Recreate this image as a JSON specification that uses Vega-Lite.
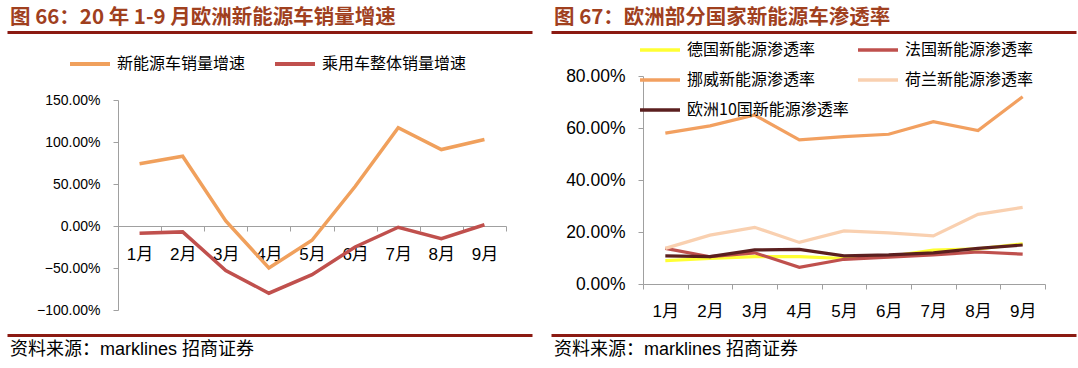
{
  "$schema": "https://vega.github.io/schema/vega-lite/v6.json",
  "autosize": {"type": "none"},
  "padding": {"left": 118, "top": 75, "right": 960, "bottom": 293},
  "background": "white",
  "config": {
    "view": {"stroke": null},
    "font": "Liberation Sans, Noto Sans CJK SC",
    "axis": {"grid": false}
  },
  "datasets": {
    "growth": [
      {"month": "1月", "series": "新能源车销量增速", "value": 0.74},
      {"month": "2月", "series": "新能源车销量增速", "value": 0.83},
      {"month": "3月", "series": "新能源车销量增速", "value": 0.06},
      {"month": "4月", "series": "新能源车销量增速", "value": -0.5},
      {"month": "5月", "series": "新能源车销量增速", "value": -0.17},
      {"month": "6月", "series": "新能源车销量增速", "value": 0.47},
      {"month": "7月", "series": "新能源车销量增速", "value": 1.17},
      {"month": "8月", "series": "新能源车销量增速", "value": 0.91},
      {"month": "9月", "series": "新能源车销量增速", "value": 1.03},
      {"month": "1月", "series": "乘用车整体销量增速", "value": -0.085},
      {"month": "2月", "series": "乘用车整体销量增速", "value": -0.07},
      {"month": "3月", "series": "乘用车整体销量增速", "value": -0.53},
      {"month": "4月", "series": "乘用车整体销量增速", "value": -0.8},
      {"month": "5月", "series": "乘用车整体销量增速", "value": -0.58},
      {"month": "6月", "series": "乘用车整体销量增速", "value": -0.25},
      {"month": "7月", "series": "乘用车整体销量增速", "value": -0.015},
      {"month": "8月", "series": "乘用车整体销量增速", "value": -0.15},
      {"month": "9月", "series": "乘用车整体销量增速", "value": 0.015}
    ],
    "pen": [
      {"month": "1月", "series": "德国新能源渗透率", "value": 0.09},
      {"month": "2月", "series": "德国新能源渗透率", "value": 0.098},
      {"month": "3月", "series": "德国新能源渗透率", "value": 0.105},
      {"month": "4月", "series": "德国新能源渗透率", "value": 0.105},
      {"month": "5月", "series": "德国新能源渗透率", "value": 0.098},
      {"month": "6月", "series": "德国新能源渗透率", "value": 0.105},
      {"month": "7月", "series": "德国新能源渗透率", "value": 0.13},
      {"month": "8月", "series": "德国新能源渗透率", "value": 0.135},
      {"month": "9月", "series": "德国新能源渗透率", "value": 0.154},
      {"month": "1月", "series": "法国新能源渗透率", "value": 0.137},
      {"month": "2月", "series": "法国新能源渗透率", "value": 0.105},
      {"month": "3月", "series": "法国新能源渗透率", "value": 0.12},
      {"month": "4月", "series": "法国新能源渗透率", "value": 0.064},
      {"month": "5月", "series": "法国新能源渗透率", "value": 0.095},
      {"month": "6月", "series": "法国新能源渗透率", "value": 0.103},
      {"month": "7月", "series": "法国新能源渗透率", "value": 0.112},
      {"month": "8月", "series": "法国新能源渗透率", "value": 0.123},
      {"month": "9月", "series": "法国新能源渗透率", "value": 0.115},
      {"month": "1月", "series": "挪威新能源渗透率", "value": 0.58},
      {"month": "2月", "series": "挪威新能源渗透率", "value": 0.608},
      {"month": "3月", "series": "挪威新能源渗透率", "value": 0.65},
      {"month": "4月", "series": "挪威新能源渗透率", "value": 0.554},
      {"month": "5月", "series": "挪威新能源渗透率", "value": 0.567},
      {"month": "6月", "series": "挪威新能源渗透率", "value": 0.576},
      {"month": "7月", "series": "挪威新能源渗透率", "value": 0.624},
      {"month": "8月", "series": "挪威新能源渗透率", "value": 0.59},
      {"month": "9月", "series": "挪威新能源渗透率", "value": 0.72},
      {"month": "1月", "series": "荷兰新能源渗透率", "value": 0.137},
      {"month": "2月", "series": "荷兰新能源渗透率", "value": 0.188},
      {"month": "3月", "series": "荷兰新能源渗透率", "value": 0.218},
      {"month": "4月", "series": "荷兰新能源渗透率", "value": 0.16},
      {"month": "5月", "series": "荷兰新能源渗透率", "value": 0.204},
      {"month": "6月", "series": "荷兰新能源渗透率", "value": 0.197},
      {"month": "7月", "series": "荷兰新能源渗透率", "value": 0.185},
      {"month": "8月", "series": "荷兰新能源渗透率", "value": 0.268},
      {"month": "9月", "series": "荷兰新能源渗透率", "value": 0.295},
      {"month": "1月", "series": "欧洲10国新能源渗透率", "value": 0.108},
      {"month": "2月", "series": "欧洲10国新能源渗透率", "value": 0.105},
      {"month": "3月", "series": "欧洲10国新能源渗透率", "value": 0.131},
      {"month": "4月", "series": "欧洲10国新能源渗透率", "value": 0.133},
      {"month": "5月", "series": "欧洲10国新能源渗透率", "value": 0.108},
      {"month": "6月", "series": "欧洲10国新能源渗透率", "value": 0.112},
      {"month": "7月", "series": "欧洲10国新能源渗透率", "value": 0.12},
      {"month": "8月", "series": "欧洲10国新能源渗透率", "value": 0.137},
      {"month": "9月", "series": "欧洲10国新能源渗透率", "value": 0.15}
    ]
  },
  "spacing": -98,
  "resolve": {"scale": {"color": "independent", "x": "independent", "y": "independent"}, "legend": {"color": "independent"}},
  "hconcat": [
    {
      "spacing": 24,
      "bounds": "flush",
      "resolve": {"scale": {"x": "independent", "y": "independent"}},
      "vconcat": [
        {
          "width": 388,
          "height": 1,
          "data": {"values": [{"v": 0}]},
          "title": {"text": "图 66：20 年 1-9 月欧洲新能源车销量增速", "anchor": "start", "frame": "bounds", "orient": "top", "offset": 4, "dx": 3, "fontSize": 20.5, "fontWeight": "bold", "color": "#A0401E", "font": "Noto Sans CJK SC"},
          "mark": {"type": "point", "opacity": 0, "size": 0},
          "encoding": {
            "x": {"field": "v", "type": "quantitative", "scale": {"domain": [0, 1], "range": [-111, 414]},
              "axis": {"orient": "top", "offset": 43, "domainColor": "#8B1A12", "domainWidth": 3, "ticks": false, "labels": false, "title": null}}
          }
        },
        {
          "width": 388,
          "height": 210,
          "data": {"name": "growth"},
          "mark": {"type": "line", "strokeWidth": 3.5},
          "encoding": {
            "x": {"field": "month", "type": "ordinal", "sort": ["1月", "2月", "3月", "4月", "5月", "6月", "7月", "8月", "9月"],
              "scale": {"type": "band", "paddingInner": 0, "paddingOuter": 0}, "bandPosition": 0.5,
              "axis": {"title": null, "offset": -84, "tickBand": "extent", "labelAngle": 0, "labelFontSize": 17, "labelPadding": 15, "labelColor": "#000", "domainColor": "#A0A0A0", "tickColor": "#A0A0A0", "tickSize": 5}},
            "y": {"field": "value", "type": "quantitative", "scale": {"domain": [-1, 1.5], "nice": false},
              "axis": {"title": null, "values": [-1, -0.5, 0, 0.5, 1, 1.5], "format": ".2%", "labelFontSize": 14, "labelPadding": 13, "labelColor": "#000", "domainColor": "#A0A0A0", "tickColor": "#A0A0A0", "tickSize": 5}},
            "color": {"field": "series", "type": "nominal",
              "scale": {"domain": ["新能源车销量增速", "乘用车整体销量增速"], "range": ["#F0A05C", "#C0504D"]},
              "legend": {"title": null, "orient": "none", "legendX": -50, "legendY": -33, "direction": "horizontal", "symbolType": "stroke", "symbolSize": 1600, "symbolStrokeWidth": 4, "labelFontSize": 16, "labelFont": "Noto Sans CJK SC", "labelColor": "#000", "columnPadding": 21, "labelOffset": 5, "labelLimit": 300}}
          }
        },
        {
          "width": 388,
          "height": 1,
          "data": {"values": [{"v": 0}]},
          "title": {"text": "资料来源：marklines 招商证券", "orient": "bottom", "anchor": "start", "frame": "bounds", "offset": 6, "dx": 3, "fontSize": 18, "fontWeight": "normal", "color": "#000"},
          "mark": {"type": "point", "opacity": 0, "size": 0},
          "encoding": {
            "x": {"field": "v", "type": "quantitative", "scale": {"domain": [0, 1], "range": [-111, 414]},
              "axis": {"orient": "bottom", "offset": 0, "domainColor": "#8B1A12", "domainWidth": 3, "ticks": false, "labels": false, "title": null}}
          }
        }
      ]
    },
    {
      "spacing": 0,
      "bounds": "flush",
      "resolve": {"scale": {"x": "independent", "y": "independent"}},
      "vconcat": [
        {
          "width": 402,
          "height": 1,
          "data": {"values": [{"v": 0}]},
          "title": {"text": "图 67：欧洲部分国家新能源车渗透率", "anchor": "start", "frame": "bounds", "orient": "top", "offset": 4, "dx": 3, "fontSize": 20.5, "fontWeight": "bold", "color": "#A0401E", "font": "Noto Sans CJK SC"},
          "mark": {"type": "point", "opacity": 0, "size": 0},
          "encoding": {
            "x": {"field": "v", "type": "quantitative", "scale": {"domain": [0, 1], "range": [-92, 433]},
              "axis": {"orient": "top", "offset": 43, "domainColor": "#8B1A12", "domainWidth": 3, "ticks": false, "labels": false, "title": null}}
          }
        },
        {
          "width": 402,
          "height": 208,
          "data": {"name": "pen"},
          "mark": {"type": "line", "strokeWidth": 3.2},
          "encoding": {
            "x": {"field": "month", "type": "ordinal", "sort": ["1月", "2月", "3月", "4月", "5月", "6月", "7月", "8月", "9月"],
              "scale": {"type": "band", "paddingInner": 0, "paddingOuter": 0}, "bandPosition": 0.5,
              "axis": {"title": null, "tickBand": "extent", "labelAngle": 0, "labelFontSize": 17, "labelPadding": 14, "labelColor": "#000", "domainColor": "#A0A0A0", "tickColor": "#A0A0A0", "tickSize": 5}},
            "y": {"field": "value", "type": "quantitative", "scale": {"domain": [0, 0.8], "nice": false},
              "axis": {"title": null, "values": [0, 0.2, 0.4, 0.6, 0.8], "format": ".2%", "labelFontSize": 17.5, "labelPadding": 13, "labelColor": "#000", "domainColor": "#A0A0A0", "tickColor": "#A0A0A0", "tickSize": 5}},
            "color": {"field": "series", "type": "nominal",
              "scale": {"domain": ["德国新能源渗透率", "法国新能源渗透率", "挪威新能源渗透率", "荷兰新能源渗透率", "欧洲10国新能源渗透率"], "range": ["#FFFF33", "#BF504D", "#F2A060", "#F9D0B0", "#5B1F1F"]},
              "legend": {"title": null, "orient": "none", "legendX": -5, "legendY": -47, "direction": "horizontal", "columns": 2, "symbolType": "stroke", "symbolSize": 1600, "symbolStrokeWidth": 3.5, "labelFontSize": 16, "labelFont": "Noto Sans CJK SC", "labelColor": "#000", "columnPadding": 2, "rowPadding": -3, "labelOffset": 5, "labelLimit": 300}}
          }
        },
        {
          "width": 402,
          "height": 1,
          "data": {"values": [{"v": 0}]},
          "title": {"text": "资料来源：marklines 招商证券", "orient": "bottom", "anchor": "start", "frame": "bounds", "offset": 6, "dx": 3, "fontSize": 18, "fontWeight": "normal", "color": "#000"},
          "mark": {"type": "point", "opacity": 0, "size": 0},
          "encoding": {
            "x": {"field": "v", "type": "quantitative", "scale": {"domain": [0, 1], "range": [-92, 433]},
              "axis": {"orient": "bottom", "offset": 50, "domainColor": "#8B1A12", "domainWidth": 3, "ticks": false, "labels": false, "title": null}}
          }
        }
      ]
    }
  ]
}
